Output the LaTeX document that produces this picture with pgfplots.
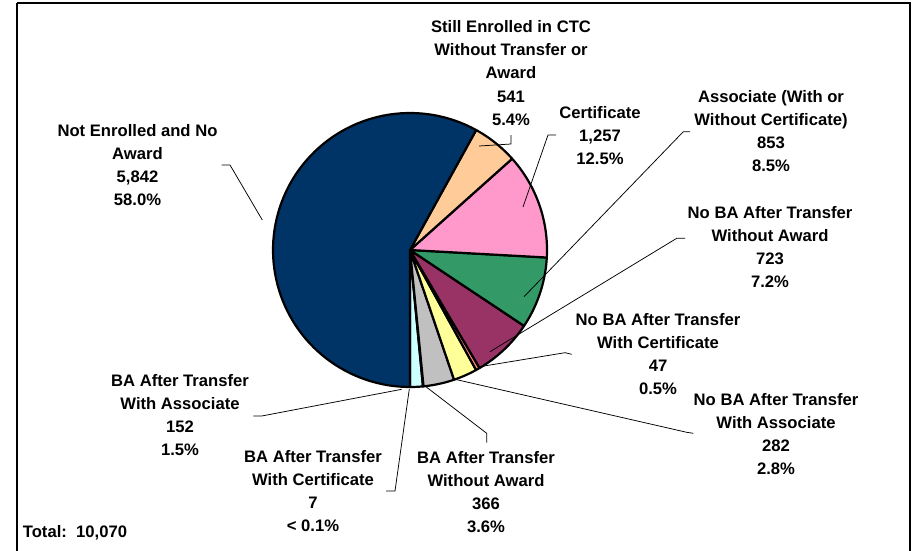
\documentclass[border=0pt]{standalone}
\usepackage{pgfplots}
\usepackage{pgfplotstable}
\pgfplotsset{compat=1.18}
\usepackage{fontspec}
\setmainfont{Liberation Sans}
\definecolor{navyc}{HTML}{003366}
\definecolor{peachc}{HTML}{FFCC99}
\definecolor{pinkc}{HTML}{FF99CC}
\definecolor{greenc}{HTML}{339966}
\definecolor{maroonc}{HTML}{993366}
\definecolor{salmonc}{HTML}{FF8080}
\definecolor{yellowc}{HTML}{FFFF99}
\definecolor{grayc}{HTML}{C0C0C0}
\definecolor{whitec}{HTML}{FFFFFF}
\definecolor{cyanc}{HTML}{CCFFFF}
% slices listed counter-clockwise starting at 6 o'clock
\pgfplotstableread{
count color
152 cyanc
7 whitec
366 grayc
282 yellowc
47 salmonc
723 maroonc
853 greenc
1257 pinkc
541 peachc
5842 navyc
}\slices
\begin{document}
\begin{tikzpicture}[lab/.style={font=\fontsize{16.7}{23.2}\selectfont\bfseries, align=center, inner sep=0pt}]
\begin{axis}[name=ax, scale only axis, width=914bp, height=551bp,
  xmin=0, xmax=914, ymin=0, ymax=551, y dir=reverse, hide axis, clip=false]
\xdef\cum{-90}
\pgfplotsforeachungrouped \i in {0,...,9}{%
  \pgfplotstablegetelem{\i}{count}\of\slices
  \let\cnt\pgfplotsretval
  \pgfplotstablegetelem{\i}{color}\of\slices
  \let\col\pgfplotsretval
  \pgfmathsetmacro\a{\cum}%
  \pgfmathsetmacro\b{\cum+(\cnt/10070)*360}%
  \edef\tmp{\noexpand\addplot[fill=\col, draw=black, line width=2.2bp, line join=round,
     domain=\a:\b, samples=90, variable=\noexpand\t]
     ({410+137*cos(\noexpand\t)},{250-137*sin(\noexpand\t)}) -- (axis cs:410,250) -- cycle;}%
  \tmp
  \xdef\cum{\b}%
}
% leader lines
\addplot[black, line width=0.75bp] coordinates {(221.7,165) (230,165) (262.3,220)};
\addplot[black, line width=0.75bp] coordinates {(479,146) (511,144) (511,135)};
\addplot[black, line width=0.75bp] coordinates {(556,135) (548,135) (523,207)};
\addplot[black, line width=0.75bp] coordinates {(690,131.7) (683.3,131.7) (524,296.7)};
\addplot[black, line width=0.75bp] coordinates {(685,238.3) (676.7,238.3) (490,351.7)};
\addplot[black, line width=0.75bp] coordinates {(571.7,354.3) (565,352.7) (478,367)};
\addplot[black, line width=0.75bp] coordinates {(693.3,433.3) (686.7,432.3) (455,379.3)};
\addplot[black, line width=0.75bp] coordinates {(486.7,442.7) (486.7,433.3) (425,386)};
\addplot[black, line width=0.75bp] coordinates {(386,491) (395,491) (409.3,389)};
\addplot[black, line width=0.75bp] coordinates {(253.3,416) (261.7,416) (401.7,389.3)};
% labels
\node[lab] at (axis cs:511,73) {Still Enrolled in CTC\\Without Transfer or\\Award\\541\\5.4\%};
\node[lab] at (axis cs:600,135.3) {Certificate\\1,257\\12.5\%};
\node[lab] at (axis cs:771,131) {Associate (With or\\Without Certificate)\\853\\8.5\%};
\node[lab] at (axis cs:770,247) {No BA After Transfer\\Without Award\\723\\7.2\%};
\node[lab] at (axis cs:658,354) {No BA After Transfer\\With Certificate\\47\\0.5\%};
\node[lab] at (axis cs:776,434) {No BA After Transfer\\With Associate\\282\\2.8\%};
\node[lab] at (axis cs:486,492) {BA After Transfer\\Without Award\\366\\3.6\%};
\node[lab] at (axis cs:313,491.3) {BA After Transfer\\With Certificate\\7\\< 0.1\%};
\node[lab] at (axis cs:180,415.3) {BA After Transfer\\With Associate\\152\\1.5\%};
\node[lab] at (axis cs:137.5,165) {Not Enrolled and No\\Award\\5,842\\58.0\%};
\node[lab, anchor=base west] at (axis cs:22.7,537.7) {Total:\ \ 10,070};
% frame
\draw[black, line width=2bp] (axis cs:17,3) -- (axis cs:909.5,3) -- (axis cs:909.5,570) (axis cs:17,3) -- (axis cs:17,570);
\end{axis}
\pgfresetboundingbox
\path[use as bounding box] (ax.south west) rectangle (ax.north east);
\end{tikzpicture}
\end{document}
